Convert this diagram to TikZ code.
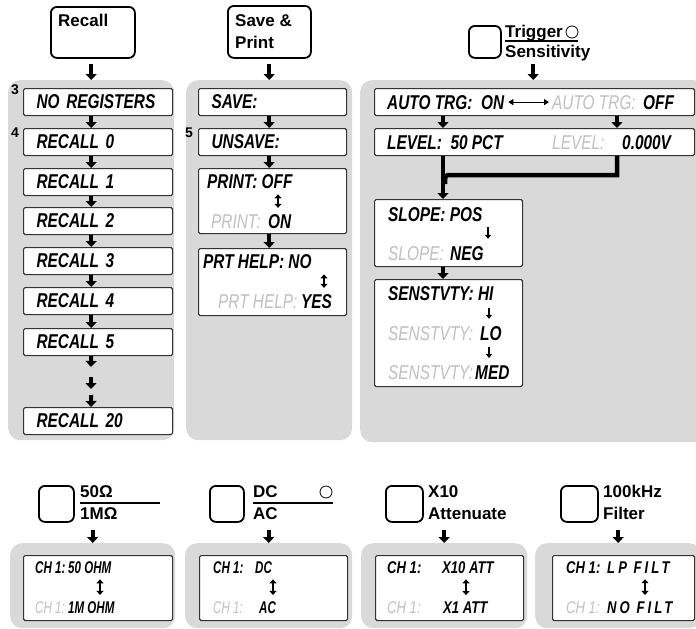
\documentclass[tikz,border=0pt]{standalone}
\usepackage{fontspec}
\setmainfont{Liberation Sans}
\newfontfamily\lcdfont[FakeStretch=0.77]{Liberation Sans}
\newfontfamily\lcdnarrow[FakeStretch=0.68]{Liberation Sans}
\newfontfamily\lcdwide[FakeStretch=0.77,LetterSpace=18]{Liberation Sans}
\usetikzlibrary{arrows.meta}
\definecolor{pnlgray}{RGB}{217,217,217}
\definecolor{txtgray}{RGB}{192,192,192}
\tikzset{
  pnl/.style={fill=pnlgray, rounded corners=12pt, anchor=north west, inner sep=0pt},
  btn/.style={draw, line width=1.8pt, rounded corners=6pt, anchor=north west, inner sep=0pt},
  blk/.style={draw=black!80, fill=white, line width=1.1pt, rounded corners=1.5pt,
              anchor=north west, inner sep=0pt},
  sblk/.style={blk, minimum height=27pt, text width=123pt, inner xsep=13pt, align=left,
               font=\lcdfont\fontsize{20}{22}\selectfont\bfseries\itshape},
  ln/.style={anchor=base west, inner sep=0pt, font=\lcdfont\fontsize{20}{22}\selectfont\bfseries\itshape},
  gl/.style={ln, text=txtgray, font=\lcdfont\fontsize{20}{22}\selectfont\itshape},
  sln/.style={anchor=base west, inner sep=0pt, font=\lcdfont\fontsize{17}{19}\selectfont\bfseries\itshape},
  sgl/.style={sln, text=txtgray, font=\lcdfont\fontsize{17}{19}\selectfont\itshape},
  nln/.style={sln, font=\lcdnarrow\fontsize{17}{19}\selectfont\bfseries\itshape},
  ngl/.style={sln, text=txtgray, font=\lcdnarrow\fontsize{17}{19}\selectfont\itshape},
  swd/.style={sln, font=\lcdwide\fontsize{17}{19}\selectfont\bfseries\itshape},
  key/.style={anchor=base west, inner sep=0pt, font=\fontsize{17}{19}\selectfont\bfseries},
  num/.style={anchor=base west, inner sep=0pt, font=\fontsize{14}{16}\selectfont\bfseries},
  led/.style={draw, circle, minimum size=12pt, inner sep=0pt, line width=0.8pt},
  rule/.style={line width=1.6pt},
  big/.style={-{Triangle[length=6pt,width=11pt]}, line width=4pt},
  bar/.style={line width=4.5pt},
  tgl/.style={{Triangle[length=4pt,width=7pt]}-{Triangle[length=4pt,width=7pt]},
              line width=1.5pt, shorten <=6pt, shorten >=6pt},
  dn/.style={-{Triangle[length=4pt,width=6pt]}, line width=1.2pt},
  lr/.style={{Triangle[length=5pt,width=6pt]}-{Triangle[length=5pt,width=6pt]},
             line width=1.2pt, shorten <=4pt, shorten >=3pt},
}

\begin{document}
\begin{tikzpicture}[x=1pt, y=-1pt]
  \useasboundingbox (0,0) rectangle (696,629);

  % Recall
  \node[btn, minimum width=84pt, minimum height=51pt] (recall) at (50,6) {};
  \node[key] (recallt) at (58,27) {Recall};
  \node[pnl, minimum width=166pt, minimum height=360pt] (rpnl) at (8,80) {};
  \draw[big, shorten <=5pt] (recall.south -| rpnl.north) -- (rpnl.north);
  \node[sblk] (noreg) at (23,88) {NO REGISTERS};
  \node[sblk] (rc0) at (23,128) {RECALL 0};
  \node[sblk] (rc1) at (23,168) {RECALL 1};
  \node[sblk] (rc2) at (23,207) {RECALL 2};
  \node[sblk] (rc3) at (23,247) {RECALL 3};
  \node[sblk] (rc4) at (23,287) {RECALL 4};
  \node[sblk] (rc5) at (23,328) {RECALL 5};
  \node[sblk] (rc20) at (23,407) {RECALL 20};
  \node[num] (n3) at (11,94) {3};
  \node[num] (n4) at (11,137) {4};
  \draw[big] (noreg.south -| rpnl.north) -- (rc0.north -| rpnl.north);
  \draw[big] (rc0.south -| rpnl.north) -- (rc1.north -| rpnl.north);
  \draw[big] (rc1.south -| rpnl.north) -- (rc2.north -| rpnl.north);
  \draw[big] (rc2.south -| rpnl.north) -- (rc3.north -| rpnl.north);
  \draw[big] (rc3.south -| rpnl.north) -- (rc4.north -| rpnl.north);
  \draw[big] (rc4.south -| rpnl.north) -- (rc5.north -| rpnl.north);
  \coordinate (gap1) at (91,367);
  \coordinate (gap2) at (91,377);
  \coordinate (gap3) at (91,389);
  \coordinate (gap4) at (91,395);
  \draw[big] (rc5.south -| rpnl.north) -- (gap1);
  \draw[big] (gap2) -- (gap3);
  \draw[big] (gap4) -- (rc20.north -| rpnl.north);

  % Save & Print
  \node[btn, minimum width=83pt, minimum height=52pt] (savep) at (227,5) {};
  \node[key] (savet) at (235,26) {Save \&};
  \node[key] (printt) at (235,48) {Print};
  \node[pnl, minimum width=166pt, minimum height=360pt] (spnl) at (186,80) {};
  \draw[big, shorten <=5pt] (savep.south -| spnl.north) -- (spnl.north);
  \node[sblk, text width=122pt] (save) at (198,88) {SAVE:};
  \node[sblk, text width=122pt] (unsave) at (198,128) {UNSAVE:};
  \node[num] (n5) at (185,137) {5};
  \node[blk, minimum width=148pt, minimum height=65pt] (print) at (198,168) {};
  \node[ln] (prtoff) at (207,188) {PRINT: OFF};
  \node[gl] (prtong) at (211,228) {PRINT:};
  \node[ln] (prton) at (268,228) {ON};
  \draw[tgl] (prtoff.south -| 278,0) -- (prton.north -| 278,0);
  \node[blk, minimum width=148pt, minimum height=67pt] (prthelp) at (198,248) {};
  \node[ln] (hno) at (203,268) {PRT HELP: NO};
  \node[gl] (hyesg) at (218,308) {PRT HELP:};
  \node[ln] (hyes) at (301,308) {YES};
  \draw[tgl] (hno.south -| 324,0) -- (hyes.north -| 324,0);
  \draw[big] (save.south -| spnl.north) -- (unsave.north -| spnl.north);
  \draw[big] (unsave.south -| spnl.north) -- (print.north -| spnl.north);
  \draw[big] (print.south -| spnl.north) -- (prthelp.north -| spnl.north);

  % Trigger Sensitivity
  \node[btn, minimum width=32pt, minimum height=32pt] (trig) at (468,25) {};
  \node[key] (trigt) at (505,37) {Trigger};
  \node[key] (sens) at (505,57) {Sensitivity};
  \node[led] (trigled) at (572,32) {};
  \draw[rule] (trigt.base west) ++(0,4) -- ++(73,0);
  \node[pnl, minimum width=346pt, minimum height=362pt] (tpnl) at (360,80) {};
  \draw[big, shorten <=5pt] (trig.south -| tpnl.north) -- (tpnl.north);
  \node[blk, minimum width=320pt, minimum height=27pt] (auto) at (374,88) {};
  \node[ln] (aon) at (387,109) {AUTO TRG:\ \ ON};
  \node[gl] (aoffg) at (552,109) {AUTO TRG:};
  \node[ln] (aoff) at (643,109) {OFF};
  \draw[lr] (aon.east) -- (aoffg.west);
  \node[blk, minimum width=320pt, minimum height=27pt] (level) at (374,128) {};
  \node[ln] (lvon) at (387,149) {LEVEL:\ \ 50 PCT};
  \node[gl] (lvoffg) at (552,149) {LEVEL:};
  \node[ln] (lvoff) at (622,149) {0.000V};
  \coordinate (xl) at (443,0);
  \coordinate (xr) at (617,0);
  \draw[big] (auto.south -| xl) -- (level.north -| xl);
  \draw[big] (auto.south -| xr) -- (level.north -| xr);
  \node[blk, minimum width=148pt, minimum height=67pt] (slope) at (374,199) {};
  \node[ln] (spos) at (388,221) {SLOPE: POS};
  \node[gl] (snegg) at (388,260) {SLOPE:};
  \node[ln] (sneg) at (450,260) {NEG};
  \draw[dn, shorten <=6pt, shorten >=7pt] (spos.south -| 488,0) -- (sneg.north -| 488,0);
  \draw[big, line width=4.5pt] (level.south -| xl) -- (slope.north -| xl);
  \draw[bar] (level.south -| xr) |- (452,175) .. controls (445,175) .. (445,184);
  \node[blk, minimum width=148pt, minimum height=107pt] (senst) at (374,279) {};
  \node[ln] (shi) at (388,300) {SENSTVTY: HI};
  \node[gl] (slog) at (388,340) {SENSTVTY:};
  \node[ln] (slo) at (480,340) {LO};
  \node[gl] (smedg) at (388,379) {SENSTVTY:};
  \node[ln] (smed) at (475,379) {MED};
  \draw[dn, shorten <=8pt, shorten >=7pt] (shi.south -| 489,0) -- (slo.north -| 489,0);
  \draw[dn, shorten <=7pt, shorten >=7pt] (slo.south -| 489,0) -- (smed.north -| 489,0);
  \draw[big] (slope.south -| xl) -- (senst.north -| xl);

  % 50 Ohm / 1 MOhm
  \node[btn, minimum width=35pt, minimum height=36pt] (ohm) at (38,485) {};
  \node[key] (ohmt) at (80,497) {50Ω};
  \node[key] (ohmb) at (80,519) {1MΩ};
  \draw[rule] (ohmt.base west) ++(0,6) -- ++(80,0);
  \node[pnl, minimum width=165pt, minimum height=85pt] (opnl) at (10,543) {};
  \draw[big, shorten <=7pt] (ohm.south -| opnl.north) -- (opnl.north);
  \node[blk, minimum width=149pt, minimum height=65pt] (obox) at (23,555) {};
  \node[nln] (och) at (35,573) {CH 1:};
  \node[nln] (o50) at (68,573) {50 OHM};
  \node[ngl] (ochg) at (35,613) {CH 1:};
  \node[nln] (o1m) at (68,613) {1M OHM};
  \draw[tgl] (o50.south -| 100,0) -- (o1m.north -| 100,0);

  % DC / AC
  \node[btn, minimum width=34pt, minimum height=36pt] (coup) at (209,485) {};
  \node[key] (dct) at (253,497) {DC};
  \node[key] (act) at (253,519) {AC};
  \node[led] (coupled) at (326,492) {};
  \draw[rule] (dct.base west) ++(0,6) -- ++(80,0);
  \node[pnl, minimum width=167pt, minimum height=85pt] (cpnl) at (185,543) {};
  \draw[big, shorten <=7pt] (coup.south -| cpnl.north) -- (cpnl.north);
  \node[blk, minimum width=148pt, minimum height=65pt] (cbox) at (199,555) {};
  \node[nln] (cch) at (213,573) {CH 1:};
  \node[nln] (cdc) at (255,573) {DC};
  \node[ngl] (cchg) at (213,613) {CH 1:};
  \node[nln] (cac) at (259,613) {AC};
  \draw[tgl] (cdc.south -| 273,0) -- (cac.north -| 273,0);

  % X10 Attenuate
  \node[btn, minimum width=37pt, minimum height=36pt] (att) at (385,485) {};
  \node[key] (x10t) at (428,497) {X10};
  \node[key] (attt) at (428,519) {Attenuate};
  \node[pnl, minimum width=166pt, minimum height=85pt] (apnl) at (361,543) {};
  \draw[big, shorten <=7pt] (att.south -| apnl.north) -- (apnl.north);
  \node[blk, minimum width=148pt, minimum height=65pt] (abox) at (375,555) {};
  \node[sln] (ach) at (387,573) {CH 1:};
  \node[sln] (ax10) at (442,573) {X10 ATT};
  \node[sgl] (achg) at (387,613) {CH 1:};
  \node[sln] (ax1) at (443,613) {X1 ATT};
  \draw[tgl] (ax10.south -| 466,0) -- (ax1.north -| 466,0);

  % 100kHz Filter
  \node[btn, minimum width=37pt, minimum height=36pt] (filt) at (560,485) {};
  \node[key] (khzt) at (603,497) {100kHz};
  \node[key] (filtt) at (603,519) {Filter};
  \node[pnl, minimum width=166pt, minimum height=85pt] (fpnl) at (535,543) {};
  \draw[big, shorten <=7pt] (filt.south -| fpnl.north) -- (fpnl.north);
  \node[blk, minimum width=142pt, minimum height=65pt] (fbox) at (552,555) {};
  \node[sln] (fch) at (566,573) {CH 1:};
  \node[swd] (flp) at (607,573) {LP FILT};
  \node[sgl] (fchg) at (566,613) {CH 1:};
  \node[swd] (fno) at (607,613) {NO FILT};
  \draw[tgl] (flp.south -| 645,0) -- (fno.north -| 645,0);
\end{tikzpicture}
\end{document}
